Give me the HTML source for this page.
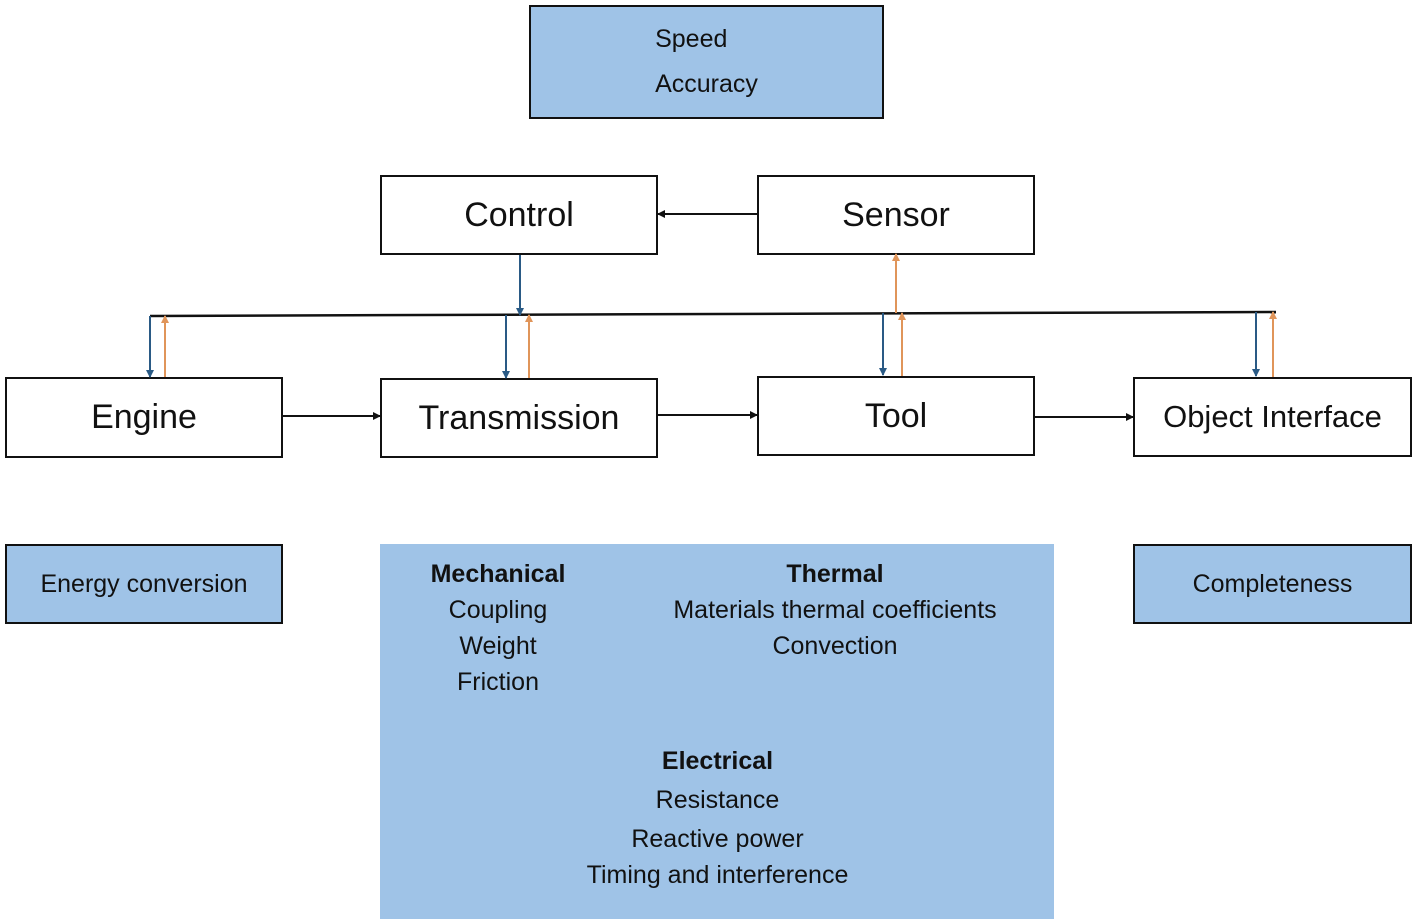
<!DOCTYPE html>
<html><head><style>
body{margin:0;width:1418px;height:923px;background:#fff;position:relative;overflow:hidden;font-family:"Liberation Sans",sans-serif;}
.b{position:absolute;box-sizing:border-box;border:2.5px solid #111;background:#fff;display:flex;align-items:center;justify-content:center;font-size:34px;color:#111;}
.f{background:#9fc3e7;font-size:25px;}
.t{position:absolute;text-align:center;font-size:25px;color:#111;line-height:36px;}
</style></head><body>
<div class="b f" style="left:529px;top:5px;width:355px;height:114px;flex-direction:column;line-height:45px;">Speed<br>Accuracy</div>
<div class="b" style="left:380px;top:175px;width:278px;height:80px;">Control</div>
<div class="b" style="left:757px;top:175px;width:278px;height:80px;">Sensor</div>
<div class="b" style="left:5px;top:377px;width:278px;height:81px;">Engine</div>
<div class="b" style="left:380px;top:378px;width:278px;height:80px;">Transmission</div>
<div class="b" style="left:757px;top:376px;width:278px;height:80px;">Tool</div>
<div class="b" style="left:1133px;top:377px;width:279px;height:80px;font-size:31px;">Object Interface</div>
<div class="b f" style="left:5px;top:544px;width:278px;height:80px;">Energy conversion</div>
<div class="b f" style="left:1133px;top:544px;width:279px;height:80px;">Completeness</div>
<div style="position:absolute;left:380px;top:544px;width:674px;height:375px;background:#9fc3e7;"></div>
<div class="t" style="left:398px;top:556px;width:200px;"><b>Mechanical</b><br>Coupling<br>Weight<br>Friction</div>
<div class="t" style="left:620px;top:556px;width:430px;"><b>Thermal</b><br>Materials thermal coefficients<br>Convection</div>
<div class="t" style="left:520px;top:743px;width:395px;"><b>Electrical</b><br><span style="line-height:42px">Resistance</span><br>Reactive power<br>Timing and interference</div>
<svg width="1418" height="923" style="position:absolute;left:0;top:0">
<defs>
<marker id="k" markerWidth="8" markerHeight="8" refX="7" refY="4" orient="auto" markerUnits="userSpaceOnUse"><path d="M0,0L8,4L0,8z" fill="#111"/></marker>
<marker id="bl" markerWidth="8" markerHeight="8" refX="7" refY="4" orient="auto" markerUnits="userSpaceOnUse"><path d="M0,0L8,4L0,8z" fill="#2a5a85"/></marker>
<marker id="or" markerWidth="8" markerHeight="8" refX="7" refY="4" orient="auto" markerUnits="userSpaceOnUse"><path d="M0,0L8,4L0,8z" fill="#e0955a"/></marker>
</defs>
<line x1="150" y1="316" x2="1276" y2="312" stroke="#111" stroke-width="2.5"/>
<g stroke="#111" stroke-width="2">
<line x1="283" y1="416" x2="380" y2="416" marker-end="url(#k)"/>
<line x1="658" y1="415" x2="757" y2="415" marker-end="url(#k)"/>
<line x1="1035" y1="417" x2="1133" y2="417" marker-end="url(#k)"/>
<line x1="757" y1="214" x2="658" y2="214" marker-end="url(#k)"/>
</g>
<g stroke="#2a5a85" stroke-width="2">
<line x1="520" y1="255" x2="520" y2="315" marker-end="url(#bl)"/>
<line x1="150" y1="316" x2="150" y2="377" marker-end="url(#bl)"/>
<line x1="506" y1="315" x2="506" y2="378" marker-end="url(#bl)"/>
<line x1="883" y1="313" x2="883" y2="375" marker-end="url(#bl)"/>
<line x1="1256" y1="312" x2="1256" y2="376" marker-end="url(#bl)"/>
</g>
<g stroke="#e0955a" stroke-width="2">
<line x1="165" y1="377" x2="165" y2="316" marker-end="url(#or)"/>
<line x1="529" y1="378" x2="529" y2="315" marker-end="url(#or)"/>
<line x1="902" y1="376" x2="902" y2="313" marker-end="url(#or)"/>
<line x1="896" y1="313" x2="896" y2="254" marker-end="url(#or)"/>
<line x1="1273" y1="377" x2="1273" y2="312" marker-end="url(#or)"/>
</g>
</svg>
</body></html>
